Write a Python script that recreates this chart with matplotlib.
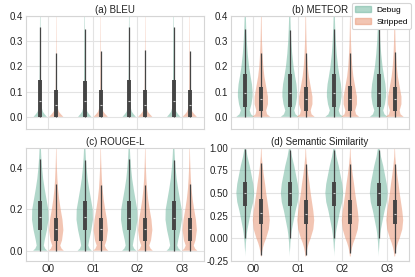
import matplotlib.pyplot as plt
import numpy as np
from matplotlib.patches import Patch

plt.rcParams['font.family'] = ['Liberation Sans', 'DejaVu Sans']
plt.rcParams['font.size'] = 7

levels = ["O0", "O1", "O2", "O3"]
hues = ["Debug", "Stripped"]
# Set2 green / orange, desaturated like seaborn does for violins
colors = ["#71b6a0", "#e99675"]

# density profiles (half-width of violin at each y)
bleu_y = [0, 0.01, 0.02, 0.035, 0.05, 0.08, 0.12, 0.2, 0.3, 0.4, 0.45]
bleu_debug_dens = [0.15, 0.1, 0.06, 0.035, 0.026, 0.02, 0.016, 0.012, 0.008, 0.005, 0.003]
bleu_stripped_dens = [0.16, 0.105, 0.06, 0.033, 0.024, 0.017, 0.012, 0.008, 0.005, 0.003, 0.002]

meteor_y = [0, 0.01, 0.025, 0.05, 0.08, 0.1, 0.13, 0.16, 0.2, 0.25, 0.3, 0.35, 0.4, 0.45]
meteor_debug_dens = [0.2, 0.13, 0.1, 0.14, 0.165, 0.165, 0.15, 0.12, 0.085, 0.055, 0.035, 0.022, 0.013, 0.006]
meteor_stripped_dens = [0.2, 0.13, 0.11, 0.15, 0.15, 0.13, 0.1, 0.07, 0.045, 0.027, 0.016, 0.01, 0.006, 0.003]

rouge_y = [0, 0.01, 0.025, 0.05, 0.1, 0.15, 0.2, 0.25, 0.3, 0.35, 0.4, 0.45, 0.5, 0.55]
rouge_debug_dens = [0.16, 0.11, 0.08, 0.1, 0.15, 0.185, 0.18, 0.14, 0.1, 0.065, 0.042, 0.025, 0.014, 0.006]
rouge_stripped_dens = [0.17, 0.12, 0.09, 0.13, 0.16, 0.14, 0.1, 0.065, 0.04, 0.025, 0.015, 0.008, 0.004, 0.002]

sem_y = [-0.2, -0.15, -0.1, -0.05, 0, 0.05, 0.1, 0.2, 0.3, 0.4, 0.5, 0.6, 0.7, 0.8, 0.9, 1.0]
sem_debug_dens = [0.0, 0.003, 0.01, 0.015, 0.025, 0.035, 0.05, 0.09, 0.13, 0.18, 0.2, 0.18, 0.14, 0.1, 0.05, 0.015]
sem_stripped_dens = [0.008, 0.02, 0.04, 0.07, 0.11, 0.14, 0.17, 0.19, 0.17, 0.14, 0.11, 0.085, 0.055, 0.03, 0.012, 0.004]

# box stats per level: [whisker low, q1, median, q3, whisker high]
bleu_debug_box = [[0, 0, 0.063, 0.145, 0.355], [0, 0, 0.062, 0.143, 0.348],
                  [0, 0, 0.064, 0.146, 0.356], [0, 0, 0.062, 0.147, 0.358]]
bleu_stripped_box = [[0, 0, 0.046, 0.105, 0.255], [0, 0, 0.046, 0.105, 0.26],
                     [0, 0, 0.048, 0.107, 0.265], [0, 0, 0.047, 0.106, 0.26]]
meteor_debug_box = [[0, 0.04, 0.095, 0.168, 0.35], [0, 0.04, 0.095, 0.168, 0.345],
                    [0, 0.04, 0.095, 0.168, 0.35], [0, 0.04, 0.095, 0.168, 0.352]]
meteor_stripped_box = [[0, 0.022, 0.07, 0.12, 0.253], [0, 0.022, 0.072, 0.12, 0.252],
                       [0, 0.022, 0.072, 0.122, 0.255], [0, 0.022, 0.07, 0.12, 0.258]]
rouge_debug_box = [[0, 0.1, 0.165, 0.24, 0.445], [0, 0.1, 0.162, 0.24, 0.44],
                   [0, 0.1, 0.16, 0.24, 0.445], [0, 0.1, 0.16, 0.24, 0.44]]
rouge_stripped_box = [[0, 0.045, 0.105, 0.16, 0.325], [0, 0.045, 0.105, 0.16, 0.32],
                      [0, 0.045, 0.105, 0.16, 0.32], [0, 0.045, 0.105, 0.16, 0.325]]
sem_debug_box = [[0, 0.36, 0.5, 0.62, 0.98], [0, 0.36, 0.495, 0.62, 0.97],
                 [0, 0.36, 0.495, 0.62, 0.97], [0, 0.36, 0.495, 0.615, 0.97]]
sem_stripped_box = [[-0.18, 0.155, 0.275, 0.43, 0.83], [-0.18, 0.155, 0.27, 0.42, 0.815],
                    [-0.16, 0.155, 0.265, 0.42, 0.815], [-0.16, 0.155, 0.27, 0.42, 0.82]]

offsets = [-0.18, 0.18]


def draw(ax, title, y, dens_pair, box_pair, ylim, yticks, yfmt):
    y = np.array(y)
    for h in range(2):
        dens = np.array(dens_pair[h])
        pos = np.arange(len(levels)) + offsets[h]
        stats = [dict(coords=y, vals=dens, mean=0, median=0, min=y[0], max=y[-1]) for _ in levels]
        parts = ax.violin(stats, positions=pos, widths=2 * dens.max(), showextrema=False)
        for b in parts['bodies']:
            b.set_facecolor(colors[h])
            b.set_edgecolor('none')
            b.set_alpha(0.55)
        box = np.array(box_pair[h])
        ax.vlines(pos, box[:, 0], box[:, 4], color='#454545', lw=0.9, zorder=3)
        ax.vlines(pos, box[:, 1], box[:, 3], color='#454545', lw=2.8, zorder=3)
        ax.hlines(box[:, 2], pos - 0.025, pos + 0.025, color='#cfcfcf', lw=0.8, zorder=4)
    ax.set_title(title, pad=2, fontsize=7, color='#222222')
    ax.set_xlim(-0.5, 3.5)
    ax.set_ylim(*ylim)
    ax.set_yticks(yticks)
    ax.set_yticklabels([yfmt.format(t) for t in yticks])
    ax.set_xticks(range(len(levels)))
    ax.set_xticklabels(levels)
    ax.set_axisbelow(True)
    ax.grid(color='#e3e3e3', lw=0.8)
    for s in ax.spines.values():
        s.set_color('#d5d5d5')
        s.set_linewidth(0.8)
    ax.tick_params(length=0, pad=2, colors='#222222', labelsize=7)


fig, axes = plt.subplots(2, 2, figsize=(4.15, 2.77), dpi=100, sharex=True)
fig.subplots_adjust(left=26 / 415, right=409 / 415, top=1 - 16 / 277, bottom=1 - 261 / 277,
                    wspace=0.152, hspace=0.16)

draw(axes[0, 0], "(a) BLEU", bleu_y, [bleu_debug_dens, bleu_stripped_dens],
     [bleu_debug_box, bleu_stripped_box], (-0.05, 0.4), [0, 0.1, 0.2, 0.3, 0.4], "{:.1f}")
draw(axes[0, 1], "(b) METEOR", meteor_y, [meteor_debug_dens, meteor_stripped_dens],
     [meteor_debug_box, meteor_stripped_box], (-0.05, 0.4), [0, 0.1, 0.2, 0.3, 0.4], "{:.1f}")
draw(axes[1, 0], "(c) ROUGE-L", rouge_y, [rouge_debug_dens, rouge_stripped_dens],
     [rouge_debug_box, rouge_stripped_box], (-0.05, 0.5), [0, 0.2, 0.4], "{:.1f}")
draw(axes[1, 1], "(d) Semantic Similarity", sem_y, [sem_debug_dens, sem_stripped_dens],
     [sem_debug_box, sem_stripped_box], (-0.25, 1.0), [-0.25, 0, 0.25, 0.5, 0.75, 1.0], "{:.2f}")

handles = [Patch(facecolor=colors[i], alpha=0.55, edgecolor=colors[i], label=hues[i]) for i in range(2)]
leg = axes[0, 1].legend(handles=handles, loc='upper right', bbox_to_anchor=(1.01, 1.115),
                        borderaxespad=0, fontsize=6, frameon=True, handlelength=2.0,
                        handleheight=0.8, handletextpad=0.6, borderpad=0.35, labelspacing=0.45,
                        fancybox=True, framealpha=1)
leg.get_frame().set_edgecolor('#d5d5d5')
leg.get_frame().set_linewidth(0.8)

fig.savefig("out.png", dpi=100)
